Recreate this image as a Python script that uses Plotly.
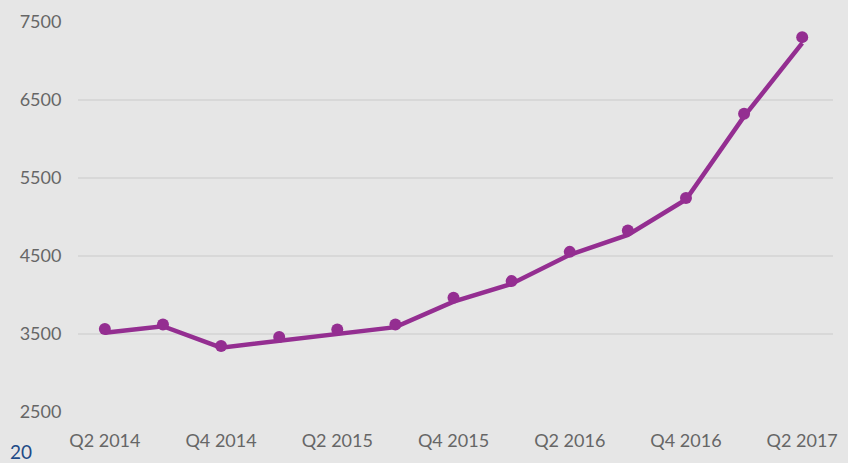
import plotly.graph_objects as go

quarters = ["Q2 2014", "Q3 2014", "Q4 2014", "Q1 2015", "Q2 2015", "Q3 2015", "Q4 2015",
            "Q1 2016", "Q2 2016", "Q3 2016", "Q4 2016", "Q1 2017", "Q2 2017"]
point_values = [3563, 3622, 3345, 3462, 3559, 3622, 3965, 4178, 4553, 4826, 5244, 6323, 7306]
line_values = [3515, 3600, 3325, 3410, 3504, 3588, 3915, 4144, 4515, 4771, 5224, 6290, 7230]
tick_labels = ["Q2 2014", "Q4 2014", "Q2 2015", "Q4 2015", "Q2 2016", "Q4 2016", "Q2 2017"]
y_ticks = [2500, 3500, 4500, 5500, 6500, 7500]

purple = "#942e91"
bg = "#e6e6e6"
x = list(range(len(quarters)))

W, H = 848, 463
ML, MR, MT, MB = 78, 10, 14, 51
PW, PH = W - ML - MR, H - MT - MB

fig = go.Figure()
fig.add_trace(go.Scatter(x=x, y=line_values, mode="lines",
                         line=dict(color=purple, width=4.5), cliponaxis=False,
                         hoverinfo="skip", showlegend=False))
fig.add_trace(go.Scatter(x=x, y=point_values, mode="markers",
                         marker=dict(color=purple, size=12), cliponaxis=False,
                         text=quarters, showlegend=False))

fig.update_layout(
    width=W, height=H,
    paper_bgcolor=bg, plot_bgcolor=bg,
    margin=dict(l=ML, r=MR, t=MT, b=MB),
    font=dict(family="Lato", color="#666666", size=18),
    xaxis=dict(range=[-0.462, 12.53], tickvals=[quarters.index(t) for t in tick_labels],
               ticktext=tick_labels, showgrid=False, zeroline=False, showline=False,
               ticks="outside", ticklen=12, tickcolor=bg),
    yaxis=dict(range=[2500, 7500], tickvals=y_ticks, showgrid=True, gridcolor="#d8d8d8",
               gridwidth=2, zeroline=False, showline=False, ticks="outside",
               ticklen=12, tickcolor=bg),
)
fig.add_annotation(text="20", xref="paper", yref="paper",
                   x=(8 - ML) / PW, y=(H - MB - 466) / PH,
                   xanchor="left", yanchor="bottom", showarrow=False,
                   font=dict(color="#1f4a87", size=19))
fig.write_html("out.html", config={"displayModeBar": False},
               post_script="document.body.style.margin='0';document.body.style.overflow='hidden';")
